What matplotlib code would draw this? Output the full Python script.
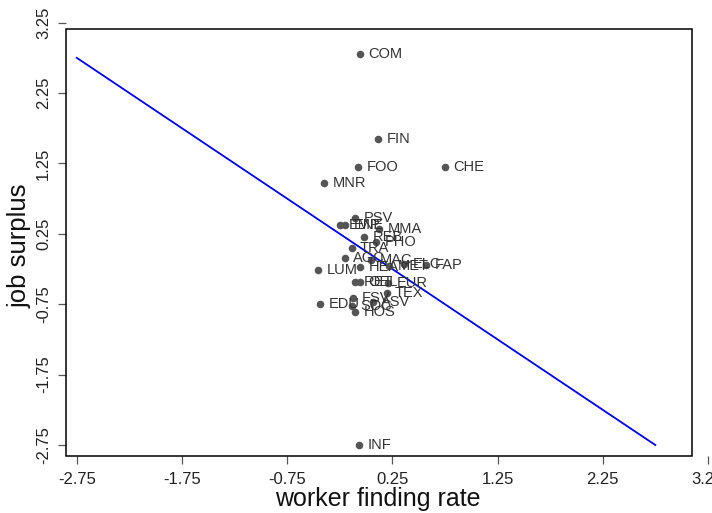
import matplotlib
matplotlib.use("Agg")
import matplotlib.pyplot as plt
from matplotlib.patches import Rectangle

plt.rcParams['font.family'] = ['Liberation Sans', 'DejaVu Sans']

labels = ["COM", "FIN", "FOO", "CHE", "MNR", "PSV", "EMP", "ENE", "MMA", "REB",
          "PHO", "TRA", "AGC", "MAC", "LUM", "HEA", "MET", "ELC", "FAP", "RET",
          "OEL", "EUR", "TEX", "FSV", "EDU", "SOC", "ASV", "HOS", "INF"]
finding_rate = [-0.057, 0.117, -0.073, 0.751, -0.396, -0.105, -0.247, -0.200, 0.124, -0.019,
                0.095, -0.136, -0.200, 0.047, -0.453, -0.057, 0.219, 0.361, 0.570, -0.105,
                -0.057, 0.209, 0.197, -0.121, -0.437, -0.136, 0.067, -0.105, -0.064]
job_surplus = [2.805, 1.598, 1.205, 1.205, 0.977, 0.480, 0.376, 0.370, 0.320, 0.210,
               0.139, 0.045, -0.097, -0.121, -0.263, -0.220, -0.206, -0.178, -0.192, -0.429,
               -0.433, -0.447, -0.594, -0.665, -0.750, -0.770, -0.717, -0.855, -2.748]
line_x = [-2.75, 2.75]
line_y = [2.75, -2.75]
ticks = [-2.75, -1.75, -0.75, 0.25, 1.25, 2.25, 3.25]
tick_labels = ["-2.75", "-1.75", "-0.75", "0.25", "1.25", "2.25", "3.25"]

W, H = 712, 513
fig = plt.figure(figsize=(W / 100, H / 100), dpi=100)

# frame (plot region) in data coords
fx0, fx1 = -2.855, 3.098
fy0, fy1 = -2.906, 3.16
xmax, ymax = 3.35, 3.35
ppx, ppy = 105.2, 70.4
left_px, bottom_px = 65.7, 513 - 456
ax = fig.add_axes([left_px / W, bottom_px / H,
                   (xmax - fx0) * ppx / W, (ymax - fy0) * ppy / H])
ax.set_xlim(fx0, xmax)
ax.set_ylim(fy0, ymax)
for s in ax.spines.values():
    s.set_visible(False)
ax.add_patch(Rectangle((fx0, fy0), fx1 - fx0, fy1 - fy0, fill=False,
                       edgecolor='black', linewidth=1.1, clip_on=False, zorder=5))

ax.plot(line_x, line_y, color='#0000ee', linewidth=1.3, zorder=2)
ax.scatter(finding_rate, job_surplus, s=30, color='#555555', zorder=3, linewidths=0)
for lab, x, y in zip(labels, finding_rate, job_surplus):
    ax.annotate(lab, (x, y), xytext=(6, 0), textcoords='offset points',
                va='center', ha='left', fontsize=10.5, color='#333333', zorder=4)

ax.set_xticks(ticks)
ax.set_xticklabels(tick_labels)
ax.set_yticks(ticks)
ax.set_yticklabels(tick_labels, rotation=90, va='center')
ax.tick_params(axis='both', direction='out', length=5.5, width=0.9, color='#555555',
               labelsize=12, labelcolor='#222222')
ax.tick_params(axis='x', pad=6)
ax.tick_params(axis='y', pad=5)

fig.text(378 / W, 1 - 499 / H, "worker finding rate", ha='center', va='center',
         fontsize=18, color='#111111')
fig.text(20 / W, 1 - 246 / H, "job surplus", ha='center', va='center',
         rotation=90, fontsize=18.5, color='#111111')

fig.savefig("out.png", dpi=100)
